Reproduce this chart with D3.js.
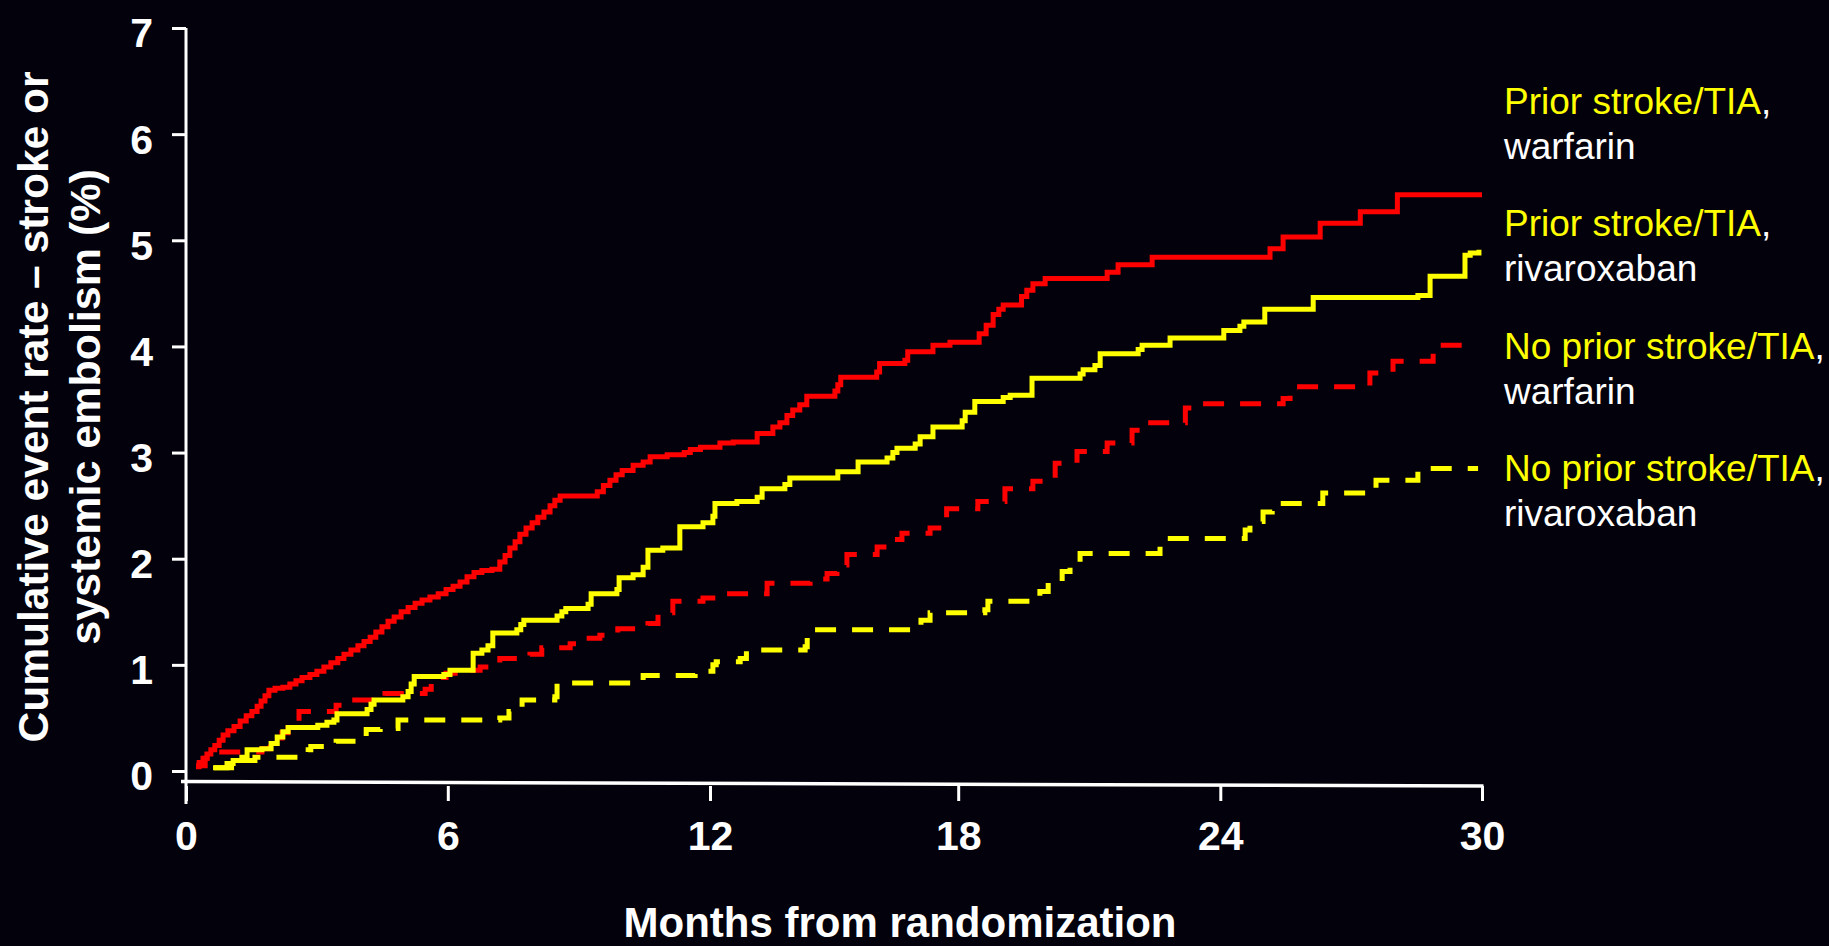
<!DOCTYPE html>
<html>
<head>
<meta charset="utf-8">
<script src="https://cdn.jsdelivr.net/npm/d3@7"></script>
<style>
  html, body { margin: 0; padding: 0; background: #03020c; }
  svg { display: block; }
</style>
</head>
<body>
<svg id="chart" width="1829" height="946"></svg>
<script>
// Axis ticks
const monthTicks = [0, 6, 12, 18, 24, 30];
const rateTicks = [0, 1, 2, 3, 4, 5, 6, 7];

// Kaplan–Meier style cumulative event rates (%), step-after: from each month the rate takes the given value
const priorWarfarinMonths = [0.23,0.30,0.39,0.48,0.57,0.66,0.76,0.85,0.96,1.10,
  1.24,1.38,1.51,1.63,1.72,1.81,1.90,2.04,2.22,2.38,
  2.52,2.66,2.84,3.00,3.16,3.32,3.48,3.62,3.78,3.94,
  4.08,4.22,4.35,4.49,4.63,4.77,4.93,5.09,5.25,5.41,
  5.59,5.78,5.96,6.12,6.28,6.44,6.60,6.78,7.01,7.19,
  7.31,7.42,7.54,7.65,7.79,7.93,8.06,8.20,8.34,8.45,
  8.57,9.42,9.56,9.71,9.85,9.99,10.24,10.47,10.63,11.02,
  11.41,11.55,11.78,12.24,12.56,13.14,13.52,13.69,13.86,14.00,
  14.17,14.34,15.02,15.09,15.16,16.03,16.10,16.71,16.78,17.39,
  17.80,18.48,18.64,18.80,18.93,19.03,19.45,19.57,19.71,19.99,
  21.41,21.66,22.44,25.14,25.44,26.29,27.21,28.06,30.0];
const priorWarfarinRate = [0.04,0.08,0.12,0.16,0.20,0.24,0.29,0.34,0.38,0.42,
  0.47,0.52,0.56,0.61,0.66,0.71,0.76,0.78,0.79,0.82,
  0.85,0.88,0.91,0.94,0.98,1.02,1.06,1.10,1.14,1.18,
  1.22,1.26,1.31,1.36,1.41,1.45,1.50,1.54,1.58,1.61,
  1.64,1.67,1.71,1.74,1.78,1.83,1.87,1.89,1.90,1.97,
  2.03,2.10,2.16,2.23,2.29,2.34,2.39,2.44,2.50,2.55,
  2.59,2.63,2.69,2.74,2.79,2.83,2.88,2.91,2.96,2.98,
  3.00,3.03,3.05,3.09,3.10,3.18,3.24,3.28,3.35,3.40,
  3.45,3.53,3.58,3.64,3.71,3.76,3.84,3.87,3.95,4.01,
  4.04,4.12,4.20,4.30,4.35,4.39,4.47,4.53,4.59,4.64,
  4.70,4.77,4.84,4.92,5.03,5.16,5.27,5.43,5.43];

const priorRivaroxabanMonths = [0.64,0.94,1.08,1.28,1.40,1.74,1.95,2.09,2.22,2.34,
  3.02,3.23,3.39,3.46,4.15,4.24,4.31,4.97,5.09,5.16,
  5.23,5.91,6.05,6.58,6.78,6.92,7.03,7.58,7.67,7.74,
  8.50,8.61,8.70,9.21,9.28,9.87,9.92,10.24,10.47,10.58,
  10.92,11.31,11.84,12.07,12.12,12.65,13.14,13.26,13.81,13.93,
  15.09,15.58,16.28,16.42,16.52,16.96,17.08,17.39,18.09,18.16,
  18.38,19.03,19.19,19.69,20.79,20.86,21.13,21.25,22.12,22.21,
  22.85,24.08,24.45,24.54,25.02,26.13,28.53,28.81,29.61,29.73,
  29.93];
const priorRivaroxabanRate = [0.03,0.07,0.10,0.13,0.20,0.21,0.26,0.32,0.37,0.41,
  0.43,0.46,0.48,0.54,0.58,0.63,0.67,0.70,0.75,0.82,
  0.89,0.91,0.95,1.11,1.14,1.18,1.30,1.33,1.38,1.42,
  1.46,1.50,1.53,1.57,1.67,1.71,1.82,1.85,1.92,2.08,
  2.10,2.30,2.34,2.40,2.52,2.54,2.58,2.66,2.70,2.76,
  2.82,2.91,2.95,3.00,3.04,3.08,3.15,3.24,3.30,3.38,
  3.48,3.52,3.54,3.70,3.74,3.78,3.82,3.93,3.97,4.01,
  4.08,4.15,4.19,4.23,4.35,4.46,4.48,4.66,4.86,4.88,
  4.91];

const noPriorWarfarinMonths = [0.23,0.44,0.66,1.74,1.93,2.09,2.20,2.34,2.48,2.59,
  3.44,3.60,4.56,5.48,5.62,5.82,5.96,6.51,6.74,7.19,
  7.88,8.15,8.80,9.14,9.48,9.89,10.58,10.81,11.15,11.84,
  12.19,13.38,14.42,14.83,15.07,15.31,16.04,16.35,16.64,17.32,
  17.64,17.72,18.45,19.07,19.71,20.22,20.72,21.41,21.98,22.17,
  23.20,23.36,25.44,25.60,27.43,27.96,28.88,29.78];
const noPriorWarfarinRate = [0.05,0.12,0.18,0.21,0.25,0.31,0.36,0.43,0.47,0.56,
  0.62,0.67,0.73,0.77,0.83,0.88,0.92,0.95,0.98,1.06,
  1.10,1.16,1.20,1.25,1.28,1.34,1.39,1.49,1.60,1.63,
  1.67,1.77,1.81,1.86,1.94,2.04,2.11,2.18,2.24,2.29,
  2.36,2.47,2.54,2.66,2.73,2.90,3.01,3.09,3.21,3.28,
  3.42,3.46,3.51,3.62,3.75,3.86,4.01,4.01];

const noPriorRivaroxabanMonths = [0.62,1.15,1.58,2.80,2.86,3.44,4.13,4.45,4.86,7.19,
  7.40,7.70,8.45,8.50,10.47,11.66,12.07,12.15,12.73,12.88,
  14.30,14.35,14.42,17.10,17.32,18.61,18.68,19.64,19.87,20.06,
  20.38,20.56,20.79,22.62,22.69,24.57,24.68,24.98,25.19,26.35,
  27.57,28.53,29.91];
const noPriorRivaroxabanRate = [0.03,0.10,0.13,0.20,0.23,0.28,0.39,0.40,0.48,0.50,
  0.56,0.67,0.70,0.83,0.90,0.94,1.00,1.03,1.06,1.14,
  1.17,1.27,1.33,1.42,1.49,1.52,1.60,1.64,1.69,1.78,
  1.88,1.95,2.05,2.13,2.19,2.27,2.35,2.44,2.52,2.62,
  2.74,2.85,2.85];

// Legend text: group (yellow) and treatment (white)
const legendGroup = ["Prior stroke/TIA", "Prior stroke/TIA", "No prior stroke/TIA", "No prior stroke/TIA"];
const legendDrug = ["warfarin", "rivaroxaban", "warfarin", "rivaroxaban"];

const RED = "#ff0000", YELLOW = "#ffff00", WHITE = "#ffffff";
const FONT = "'Liberation Sans', Arial, Helvetica, sans-serif";

const series = [
  { months: noPriorRivaroxabanMonths, rate: noPriorRivaroxabanRate, color: YELLOW, dash: "21,16" },
  { months: noPriorWarfarinMonths, rate: noPriorWarfarinRate, color: RED, dash: "21,16" },
  { months: priorRivaroxabanMonths, rate: priorRivaroxabanRate, color: YELLOW, dash: null },
  { months: priorWarfarinMonths, rate: priorWarfarinRate, color: RED, dash: null }
];

const svg = d3.select("#chart");

const x = d3.scaleLinear().domain(monthTicks).range([186, 447.8, 710, 958.2, 1220.3, 1482]);
const y = d3.scaleLinear().domain([0, 7]).range([771, 28]);

// Curves
const line = d3.line()
  .x(d => x(d[0]))
  .y(d => y(d[1]))
  .curve(d3.curveStepAfter);

svg.append("g").selectAll("path")
  .data(series)
  .join("path")
  .attr("d", s => line(s.months.map((m, i) => [m, s.rate[i]])))
  .attr("fill", "none")
  .attr("stroke", s => s.color)
  .attr("stroke-width", 5)
  .attr("stroke-linejoin", "miter")
  .attr("stroke-dasharray", s => s.dash);

// Y axis
const yAxis = svg.append("g")
  .attr("transform", "translate(186,0)")
  .call(d3.axisLeft(y).tickValues(rateTicks).tickFormat(d3.format("d"))
    .tickSize(14).tickPadding(19).tickSizeOuter(0));
yAxis.select(".domain").remove();
yAxis.append("line")
  .attr("x1", 0).attr("x2", 0)
  .attr("y1", y(7)).attr("y2", 804)
  .attr("stroke", WHITE).attr("stroke-width", 3);
yAxis.selectAll(".tick line").attr("stroke", WHITE).attr("stroke-width", 3);
yAxis.selectAll(".tick text")
  .attr("fill", WHITE)
  .attr("dy", "0.46em")
  .style("font-family", FONT)
  .style("font-size", "41px")
  .style("font-weight", "bold");

// X axis (its baseline runs slightly downhill to the right)
const xAxis = svg.append("g")
  .attr("transform", "translate(0,786)")
  .call(d3.axisBottom(x).tickValues(monthTicks).tickFormat(d3.format("d"))
    .tickSize(15).tickSizeOuter(0));
xAxis.select(".domain").remove();
xAxis.selectAll(".tick line").attr("stroke", WHITE).attr("stroke-width", 3);
xAxis.selectAll(".tick text")
  .attr("fill", WHITE)
  .attr("y", 64)
  .attr("dy", 0)
  .style("font-family", FONT)
  .style("font-size", "41px")
  .style("font-weight", "bold");
svg.append("line")
  .attr("x1", 181).attr("y1", 781.5)
  .attr("x2", x(30) + 1.5).attr("y2", 786)
  .attr("stroke", WHITE).attr("stroke-width", 3.5);

// Axis titles (first line set a little tighter)
const yTitle = ["Cumulative event rate \u2013 stroke or", "systemic embolism (%)"];
const yTitleLength = [671, null];
svg.append("g").selectAll("text")
  .data(yTitle)
  .join("text")
  .attr("transform", (d, i) => `translate(${48 + i * 52},407) rotate(-90)`)
  .attr("text-anchor", "middle")
  .attr("fill", WHITE)
  .attr("textLength", (d, i) => yTitleLength[i])
  .attr("lengthAdjust", "spacingAndGlyphs")
  .style("font-family", FONT)
  .style("font-size", "43px")
  .style("font-weight", "bold")
  .text(d => d);

svg.append("text")
  .attr("x", 900).attr("y", 937)
  .attr("text-anchor", "middle")
  .attr("fill", WHITE)
  .style("font-family", FONT)
  .style("font-size", "42px")
  .style("font-weight", "bold")
  .text("Months from randomization");

// Legend
const legend = svg.append("g")
  .style("font-family", FONT)
  .style("font-size", "37px");
legendGroup.forEach((g, i) => {
  const top = 114 + i * 122.3;
  const t1 = legend.append("text").attr("x", 1504).attr("y", top);
  t1.append("tspan").attr("fill", YELLOW).text(g);
  t1.append("tspan").attr("fill", WHITE).text(",");
  legend.append("text").attr("x", 1504).attr("y", top + 45)
    .attr("fill", WHITE).text(legendDrug[i]);
});
</script>
</body>
</html>
